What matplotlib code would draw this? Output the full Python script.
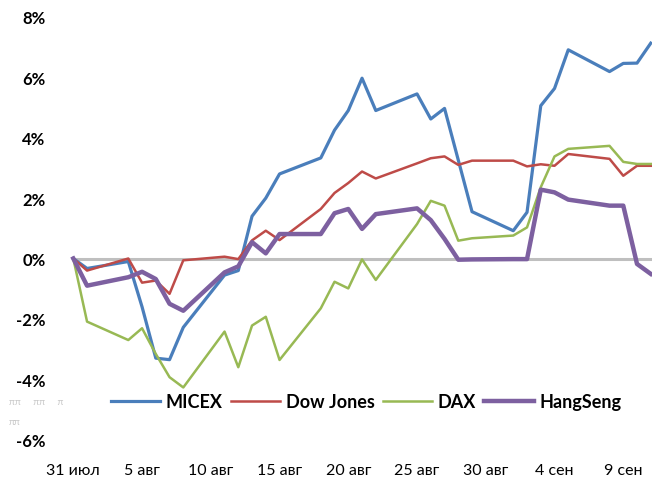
import matplotlib
matplotlib.use("Agg")
import matplotlib.pyplot as plt
import matplotlib.dates as mdates
import pandas as pd

# trading days, 31 Jul - 11 Sep 2014
dates = pd.to_datetime([
    "2014-07-31", "2014-08-01",
    "2014-08-04", "2014-08-05", "2014-08-06", "2014-08-07", "2014-08-08",
    "2014-08-11", "2014-08-12", "2014-08-13", "2014-08-14", "2014-08-15",
    "2014-08-18", "2014-08-19", "2014-08-20", "2014-08-21", "2014-08-22",
    "2014-08-25", "2014-08-26", "2014-08-27", "2014-08-28", "2014-08-29",
    "2014-09-01", "2014-09-02", "2014-09-03", "2014-09-04", "2014-09-05",
    "2014-09-08", "2014-09-09", "2014-09-10", "2014-09-11",
])

# change vs 31 Jul, %
micex = [0, -0.33, -0.1, -1.6, -3.3, -3.35, -2.28, -0.55, -0.4, 1.4, 2.0,
         2.8, 3.33, 4.25, 4.9, 5.97, 4.9, 5.45, 4.62, 4.97, 3.26, 1.55,
         0.92, 1.53, 5.06, 5.63, 6.91, 6.19, 6.46, 6.47, 7.13]
dow_jones = [0, -0.4, 0.0, -0.8, -0.73, -1.17, -0.06, 0.06, -0.02, 0.6, 0.92,
             0.61, 1.64, 2.17, 2.5, 2.88, 2.65, 3.15, 3.32, 3.38, 3.1, 3.24,
             3.24, 3.05, 3.12, 3.07, 3.46, 3.3, 2.74, 3.07, 3.07]
dax = [0, -2.09, -2.7, -2.31, -3.16, -3.93, -4.27, -2.42, -3.6, -2.22, -1.93,
       -3.36, -1.65, -0.77, -0.99, -0.03, -0.71, 1.14, 1.91, 1.75, 0.59, 0.67,
       0.76, 1.03, 2.36, 3.38, 3.63, 3.73, 3.2, 3.13, 3.13]
hang_seng = [0, -0.9, -0.62, -0.44, -0.68, -1.5, -1.73, -0.46, -0.26, 0.54,
             0.17, 0.81, 0.81, 1.5, 1.64, 0.98, 1.47, 1.66, 1.27, 0.65, -0.04,
             -0.03, -0.02, -0.02, 2.28, 2.19, 1.95, 1.75, 1.75, -0.18, -0.51]

tick_dates = pd.to_datetime(["2014-07-31", "2014-08-05", "2014-08-10", "2014-08-15",
                             "2014-08-20", "2014-08-25", "2014-08-30", "2014-09-04",
                             "2014-09-09"])
tick_labels = ["31 июл", "5 авг", "10 авг", "15 авг", "20 авг", "25 авг",
               "30 авг", "4 сен", "9 сен"]
y_ticks = [-6, -4, -2, 0, 2, 4, 6, 8]

plt.rcParams['font.family'] = ['Lato', 'DejaVu Sans']

fig = plt.figure(figsize=(6.52, 4.81), dpi=100)
W, H = 652, 481
ax = fig.add_axes([73.3 / W, 40.3 / H, 578.7 / W, 422.8 / H])

ax.axhline(0, color="#bfbfbf", lw=2.2, zorder=1)
ax.plot(dates, micex, color="#4a7ebb", lw=2.3, label="MICEX", clip_on=False, zorder=3)
ax.plot(dates, dow_jones, color="#be4b48", lw=1.8, label="Dow Jones", clip_on=False, zorder=3)
ax.plot(dates, dax, color="#98b954", lw=1.8, label="DAX", clip_on=False, zorder=3)
ax.plot(dates, hang_seng, color="#7d60a0", lw=3.2, label="HangSeng", clip_on=False, zorder=4)

start = dates[0]
ax.set_xlim(mdates.date2num(start), mdates.date2num(start) + 42.09)
ax.set_ylim(-6, 8)

ax.set_xticks(tick_dates)
ax.set_xticklabels(tick_labels, fontsize=11.5)
ax.set_yticks(y_ticks)
ax.set_yticklabels([f"{v}%" for v in y_ticks], fontsize=12, fontweight="bold")
ax.tick_params(axis="x", length=0, pad=17)
ax.tick_params(axis="y", length=0, pad=20)
for s in ax.spines.values():
    s.set_visible(False)

fig.legend(loc="center", bbox_to_anchor=(366 / W, 1 - 403 / H), ncol=4, frameon=False,
           prop={"weight": "bold", "size": 13}, handlelength=2.75, handletextpad=0.3,
           columnspacing=0.45)

# faint leftover marks at the left edge
fig.text(9 / W, 1 - 403 / H, "ππ     ππ     π", color="#c8c8c8", fontsize=7, va="center")
fig.text(9 / W, 1 - 423 / H, "ππ", color="#c8c8c8", fontsize=7, va="center")

fig.savefig("out.png", dpi=100)
